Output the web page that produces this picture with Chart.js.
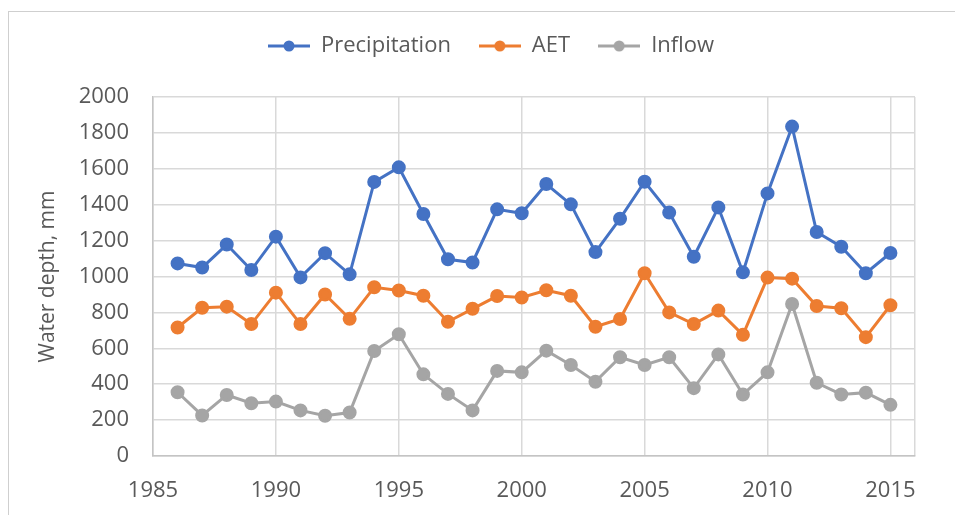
<!DOCTYPE html>
<html>
<head>
<meta charset="utf-8">
<script src="https://cdn.jsdelivr.net/npm/chart.js@4.4.1/dist/chart.umd.min.js"></script>
<style>
  html, body { margin: 0; padding: 0; background: #fff; overflow: hidden; }
  #frame { position: absolute; left: 8px; top: 11px; width: 2000px; height: 2000px; border: 1px solid #cfcfcf; }
  #wrap { position: absolute; left: 0; top: 0; width: 955px; height: 515px; }
</style>
</head>
<body>
<div id="frame"></div>
<div id="wrap"><canvas id="chart" width="955" height="515"></canvas></div>
<script>
// Annual water balance, 1986-2015
var years = [1986, 1987, 1988, 1989, 1990, 1991, 1992, 1993, 1994, 1995,
             1996, 1997, 1998, 1999, 2000, 2001, 2002, 2003, 2004, 2005,
             2006, 2007, 2008, 2009, 2010, 2011, 2012, 2013, 2014, 2015];

var precipitation = [1073, 1050, 1178, 1036, 1222, 995, 1130, 1012, 1527, 1608,
                     1348, 1096, 1078, 1374, 1352, 1515, 1402, 1136, 1322, 1528,
                     1356, 1110, 1385, 1023, 1463, 1835, 1248, 1166, 1018, 1131];

var aet = [716, 826, 832, 735, 910, 735, 900, 764, 940, 922,
           893, 748, 820, 891, 883, 923, 893, 720, 763, 1018,
           800, 735, 810, 675, 994, 988, 836, 823, 662, 840];

var inflow = [355, 226, 340, 294, 303, 254, 224, 242, 585, 678,
              455, 346, 254, 474, 466, 587, 507, 414, 550, 507,
              550, 378, 566, 343, 466, 847, 408, 343, 353, 285];

var yTicks = [0, 200, 400, 600, 800, 1000, 1200, 1400, 1600, 1800, 2000];
var xTicks = [1985, 1990, 1995, 2000, 2005, 2010, 2015];
var xMax = 2016;

var textColor = '#595959';
var gridColor = '#d9d9d9';
var font = { family: 'Open Sans', size: 22 };

function toPoints(values) {
    return years.map(function (yr, i) { return { x: yr, y: values[i] }; });
}

// legend swatch: short line with a marker in the middle
function swatch(color) {
    var c = document.createElement('canvas');
    c.width = 42; c.height = 12;
    var g = c.getContext('2d');
    g.strokeStyle = color;
    g.lineWidth = 3;
    g.beginPath(); g.moveTo(0, 6); g.lineTo(42, 6); g.stroke();
    g.fillStyle = color;
    g.beginPath(); g.arc(21, 6, 5.5, 0, Math.PI * 2); g.fill();
    return c;
}

function series(label, values, color) {
    return {
        label: label,
        data: toPoints(values),
        borderColor: color,
        backgroundColor: color,
        borderWidth: 3,
        pointRadius: 5.5,
        pointHoverRadius: 5.5,
        pointBackgroundColor: color,
        pointBorderColor: color,
        pointStyle: 'circle',
        tension: 0,
        fill: false
    };
}

var swatches = {};

// make the legend block reach down to the plot area and sit a bit right of centre
var legendBox = {
    id: 'legendBox',
    beforeInit: function (chart) {
        var orig = chart.legend.fit;
        chart.legend.fit = function () {
            orig.call(chart.legend);
            this.height = 90;
        };
    },
    afterLayout: function (chart) {
        chart.legend.left += 18;
        chart.legend.right += 18;
    }
};

var ctx = document.getElementById('chart').getContext('2d');
new Chart(ctx, {
    type: 'line',
    data: {
        datasets: [
            series('Precipitation', precipitation, '#4472C4'),
            series('AET', aet, '#ED7D31'),
            series('Inflow', inflow, '#A5A5A5')
        ]
    },
    options: {
        responsive: false,
        animation: false,
        maintainAspectRatio: false,
        layout: { padding: { left: 31, right: 40, top: 7, bottom: 0 } },
        plugins: {
            tooltip: { enabled: false },
            legend: {
                position: 'top',
                align: 'center',
                labels: {
                    color: textColor,
                    font: font,
                    usePointStyle: true,
                    pointStyleWidth: 42,
                    boxHeight: 12,
                    padding: 28,
                    generateLabels: function (chart) {
                        return chart.data.datasets.map(function (ds, i) {
                            if (!swatches[ds.label]) swatches[ds.label] = swatch(ds.borderColor);
                            return {
                                text: ds.label,
                                fillStyle: ds.borderColor,
                                strokeStyle: ds.borderColor,
                                fontColor: textColor,
                                lineWidth: 0,
                                pointStyle: swatches[ds.label],
                                hidden: false,
                                datasetIndex: i
                            };
                        });
                    }
                }
            }
        },
        scales: {
            x: {
                type: 'linear',
                min: xTicks[0],
                max: xMax,
                afterBuildTicks: function (scale) {
                    scale.ticks = xTicks.concat([xMax]).map(function (v) { return { value: v }; });
                },
                afterFit: function (scale) { scale.height = 59; },
                ticks: {
                    color: textColor,
                    font: font,
                    padding: 22,
                    maxRotation: 0,
                    autoSkip: false,
                    callback: function (v) { return xTicks.indexOf(v) >= 0 ? String(v) : ''; }
                },
                grid: { color: gridColor, lineWidth: 1.5, drawTicks: false },
                border: { color: '#c4c4c4', width: 1.5 }
            },
            y: {
                min: 0,
                max: 2000,
                afterBuildTicks: function (scale) {
                    scale.ticks = yTicks.map(function (v) { return { value: v }; });
                },
                afterFit: function (scale) { scale.width = 122; },
                title: {
                    display: true,
                    text: 'Water depth, mm',
                    color: textColor,
                    font: { family: 'Open Sans', size: 21 },
                    padding: { top: 4, bottom: 4 }
                },
                ticks: {
                    color: textColor,
                    font: font,
                    padding: 24,
                    callback: function (v) { return String(v); }
                },
                grid: { color: gridColor, lineWidth: 1.5, drawTicks: false },
                border: { color: '#c4c4c4', width: 1.5 }
            }
        }
    },
    plugins: [legendBox]
});
</script>
</body>
</html>
